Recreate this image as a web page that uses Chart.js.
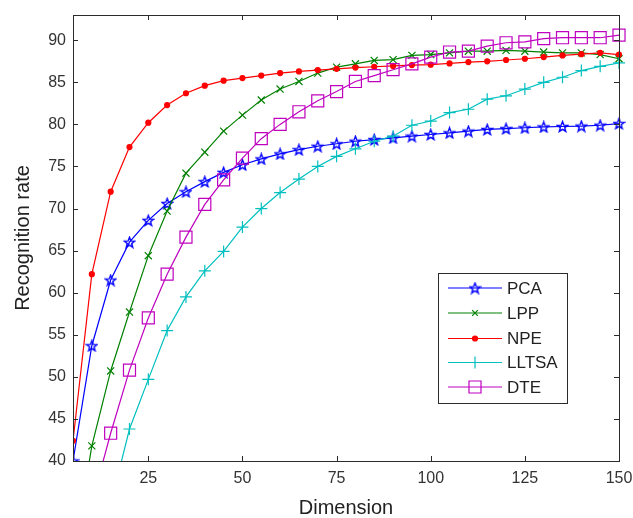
<!DOCTYPE html>
<html><head><meta charset="utf-8">
<script src="https://cdn.jsdelivr.net/npm/chart.js@4/dist/chart.umd.min.js"></script>
<style>html,body{margin:0;padding:0;background:#fff}</style>
</head><body>
<canvas id="c" width="633" height="518"></canvas>
<script>
const dimensions = [5,10,15,20,25,30,35,40,45,50,55,60,65,70,75,80,85,90,95,100,105,110,115,120,125,130,135,140,145,150];
const xTickValues = [25,50,75,100,125,150];
const yTickValues = [40,45,50,55,60,65,70,75,80,85,90];
const pca   = [40.0,53.7,61.5,66.0,68.6,70.6,72.0,73.2,74.3,75.2,75.9,76.5,77.0,77.4,77.7,78.0,78.2,78.4,78.6,78.8,79.0,79.2,79.4,79.5,79.6,79.7,79.75,79.8,79.9,80.1];
const lpp   = [28.0,41.8,50.7,57.7,64.4,69.7,74.2,76.7,79.2,81.1,82.9,84.2,85.1,86.1,86.8,87.2,87.6,87.7,88.2,88.3,88.5,88.7,88.7,88.8,88.7,88.6,88.5,88.5,88.3,87.8];
const npe   = [42.4,62.2,72.0,77.3,80.2,82.3,83.7,84.6,85.2,85.5,85.8,86.1,86.3,86.45,86.6,86.75,86.85,86.95,87.05,87.1,87.25,87.4,87.5,87.65,87.8,88.0,88.2,88.35,88.5,88.3];
const lltsa = [null,null,34.8,43.8,49.7,55.5,59.5,62.6,64.9,67.8,70.0,71.9,73.5,75.0,76.2,77.1,78.0,78.6,79.9,80.4,81.4,81.8,83.0,83.4,84.2,85.0,85.6,86.4,86.9,87.3];
const dte   = [null,35.0,43.3,50.8,57.0,62.2,66.6,70.5,73.4,76.0,78.3,80.0,81.5,82.8,83.9,85.1,85.8,86.5,87.2,88.0,88.6,88.7,89.3,89.7,89.8,90.2,90.3,90.3,90.3,90.6];
const seriesNames = ['PCA','LPP','NPE','LLTSA','DTE'];

function starImg(color, size) {
  const c = document.createElement('canvas'); c.width = c.height = size;
  const g = c.getContext('2d'); const cx = size/2, cy = size/2 + 0.5, R = size/2 - 1, r = R*0.42;
  g.beginPath();
  for (let i = 0; i < 10; i++) {
    const a = -Math.PI/2 + i*Math.PI/5; const rr = i % 2 ? r : R;
    g.lineTo(cx + rr*Math.cos(a), cy + rr*Math.sin(a));
  }
  g.closePath(); g.strokeStyle = color; g.lineWidth = 1.4; g.stroke();
  return c;
}
const starBlue = starImg('#0000ff', 13);
const pts = arr => dimensions.map((d,i) => ({x: d, y: arr[i]}));
const FONT = "'Liberation Sans', Arial, sans-serif";
const AXC = '#2b2b2b';

const common = {borderWidth: 1.2, pointBorderWidth: 1.2, fill: false, tension: 0, clip: {left: 0, top: 10, right: 10, bottom: 0}, spanGaps: false};
const datasets = [
  Object.assign({label: seriesNames[0], data: pts(pca), borderColor: '#0000ff', backgroundColor: 'transparent', pointStyle: starBlue, pointRadius: 6.5, order: 4}, common),
  Object.assign({label: seriesNames[1], data: pts(lpp), borderColor: '#008000', backgroundColor: 'transparent', pointStyle: 'crossRot', pointRadius: 5, order: 3}, common),
  Object.assign({label: seriesNames[2], data: pts(npe), borderColor: '#ff0000', backgroundColor: '#ff0000', pointStyle: 'circle', pointRadius: 2.5, order: 2}, common),
  Object.assign({label: seriesNames[3], data: pts(lltsa), borderColor: '#00bfbf', backgroundColor: 'transparent', pointStyle: 'cross', pointRadius: 6, order: 1}, common),
  Object.assign({label: seriesNames[4], data: pts(dte), borderColor: '#bf00bf', backgroundColor: 'transparent', pointStyle: 'rect', pointRadius: 8.5, order: 0}, common)
];

const boxPlugin = {
  id: 'box',
  afterDraw(chart) {
    const {ctx, chartArea: a, scales: {x, y}} = chart;
    ctx.save();
    ctx.strokeStyle = AXC; ctx.lineWidth = 1;
    ctx.strokeRect(Math.round(a.left) + 0.5, Math.round(a.top) + 0.5, Math.round(a.right - a.left), Math.round(a.bottom - a.top));
    ctx.beginPath();
    const L = 5;
    xTickValues.forEach(v => {
      const px = Math.round(x.getPixelForValue(v)) + 0.5;
      ctx.moveTo(px, a.bottom); ctx.lineTo(px, a.bottom - L);
      ctx.moveTo(px, a.top); ctx.lineTo(px, a.top + L);
    });
    yTickValues.forEach(v => {
      const py = Math.round(y.getPixelForValue(v)) + 0.5;
      ctx.moveTo(a.left, py); ctx.lineTo(a.left + L, py);
      ctx.moveTo(a.right, py); ctx.lineTo(a.right - L, py);
    });
    ctx.stroke();

    // legend
    const lx = 438, ly = 273, lw = 129, lh = 130;
    ctx.fillStyle = '#fff';
    ctx.fillRect(lx, ly, lw, lh);
    ctx.strokeStyle = AXC;
    ctx.strokeRect(lx + 0.5, ly + 0.5, lw, lh);
    const rows = [288, 313, 338.5, 362.5, 387];
    const legRadius = [6.5, 4, 2.5, 6, 8.5];
    chart.data.datasets.forEach((ds, i) => {
      const yy = rows[i];
      ctx.strokeStyle = ds.borderColor; ctx.lineWidth = 1.2;
      ctx.beginPath(); ctx.moveTo(448, yy); ctx.lineTo(502, yy); ctx.stroke();
      ctx.fillStyle = ds.backgroundColor;
      Chart.helpers.drawPoint(ctx, {pointStyle: ds.pointStyle, radius: legRadius[i], borderWidth: 1.2, rotation: 0}, 475, yy);
      ctx.fillStyle = '#222';
      ctx.font = '17px ' + FONT;
      ctx.textBaseline = 'middle'; ctx.textAlign = 'left';
      ctx.fillText(ds.label, 507, yy + 1);
    });
    ctx.restore();
  }
};

new Chart(document.getElementById('c'), {
  type: 'line',
  data: {datasets},
  plugins: [boxPlugin],
  options: {
    responsive: false, animation: false,
    layout: {padding: {left: 0, right: 14, top: 15, bottom: 0}},
    plugins: {legend: {display: false}, tooltip: {enabled: false}},
    scales: {
      x: {
        type: 'linear', min: 5, max: 150,
        afterBuildTicks: s => { s.ticks = xTickValues.map(v => ({value: v})); },
        afterFit: s => { s.height = 57; s.paddingLeft = 0; s.paddingRight = 0; },
        grid: {display: false, drawTicks: false}, border: {display: false},
        ticks: {padding: 8, color: '#333', font: {family: FONT, size: 16}, maxRotation: 0, autoSkip: false},
        title: {display: true, text: 'Dimension', color: '#222', font: {family: FONT, size: 20, lineHeight: 1.0}, padding: {top: 0, bottom: 0}}
      },
      y: {
        type: 'linear', min: 40, max: 93,
        afterBuildTicks: s => { s.ticks = yTickValues.map(v => ({value: v})); },
        afterFit: s => { s.width = 73; s.paddingTop = 0; s.paddingBottom = 0; },
        grid: {display: false, drawTicks: false}, border: {display: false},
        ticks: {padding: 7, color: '#333', font: {family: FONT, size: 16}, autoSkip: false},
        title: {display: true, text: 'Recognition rate', color: '#222', font: {family: FONT, size: 20}, padding: {top: 11, bottom: 0}}
      }
    }
  }
});
</script>
</body></html>
